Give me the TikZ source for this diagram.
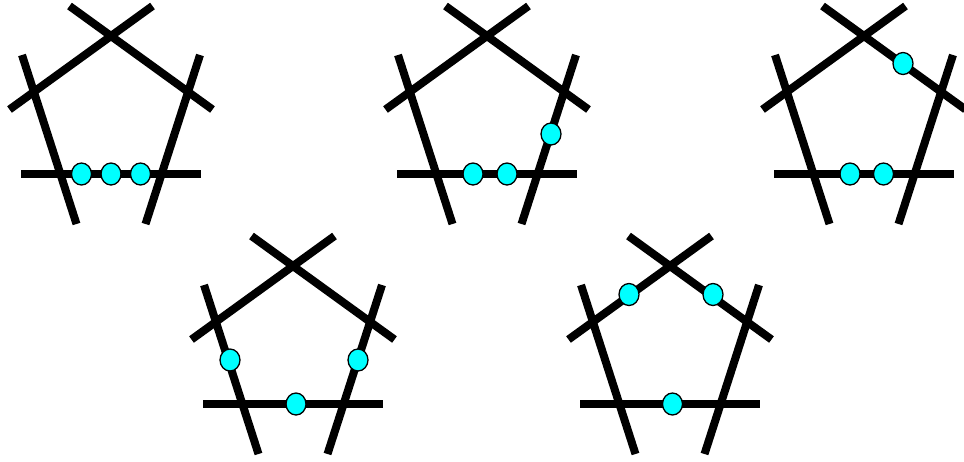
\documentclass[tikz,border=0pt]{standalone}
\usetikzlibrary{shapes.geometric}

\definecolor{beadcyan}{RGB}{0,255,255}

\tikzset{
    side/.style={line width=8pt},
    bead/.style={ellipse, draw=black, line width=1.3pt, fill=beadcyan,
        minimum width=20pt, minimum height=22pt, inner sep=0pt},
}

\begin{document}
\begin{tikzpicture}[x=1pt, y=-1pt]

    \useasboundingbox (0,0) rectangle (964,461);

    \foreach \cx/\ty in {111/35, 487/35, 864/35, 293/265, 670/265}
    {
        \begin{scope}[shift={(\cx,\ty)}]
            \draw[side] (-90,139) -- (90,139);
            \draw[side] (-89,20) -- (-34.5,189);
            \draw[side] (89,20) -- (34.5,189);
            \draw[side] (-101.5,74.5) -- (41.5,-29);
            \draw[side] (-41.5,-29) -- (101.5,74.5);
        \end{scope}
    }

    % first row
    \node[bead] (p1a) at (81.5,174) {};
    \node[bead] (p1b) at (111,174) {};
    \node[bead] (p1c) at (140.5,174) {};

    \node[bead] (p2a) at (473,174) {};
    \node[bead] (p2b) at (507,174) {};
    \node[bead] (p2c) at (551,134) {};

    \node[bead] (p3a) at (850,174) {};
    \node[bead] (p3b) at (883.5,174) {};
    \node[bead] (p3c) at (903,63.5) {};

    % second row
    \node[bead] (p4a) at (230,360) {};
    \node[bead] (p4b) at (358,360) {};
    \node[bead] (p4c) at (296,404) {};

    \node[bead] (p5a) at (629,294.5) {};
    \node[bead] (p5b) at (713,294.5) {};
    \node[bead] (p5c) at (672.5,404) {};

\end{tikzpicture}
\end{document}
